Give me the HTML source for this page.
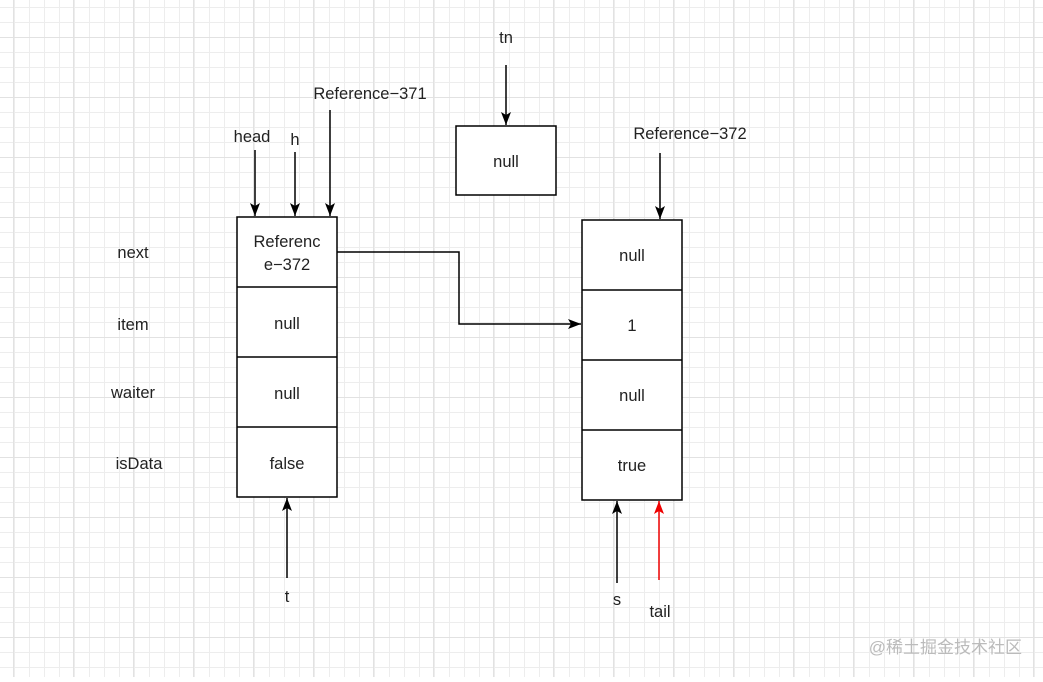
<!DOCTYPE html>
<html><head><meta charset="utf-8"><style>
body{margin:0;width:1043px;height:677px;overflow:hidden;background:#fff;font-family:"Liberation Sans","Noto Sans CJK SC",sans-serif}
</style></head><body>
<svg width="1043" height="677" xmlns="http://www.w3.org/2000/svg">
<defs>
<pattern id="g" x="-1" y="7" width="15" height="15" patternUnits="userSpaceOnUse"><path d="M0 0.5H15M0.5 0V15" stroke="#ededed" stroke-width="1" fill="none"/></pattern>
<pattern id="G" x="13" y="37" width="60" height="60" patternUnits="userSpaceOnUse"><path d="M0 0.5H60M0.5 0V60" stroke="#e2e2e2" stroke-width="1" fill="none"/></pattern>
<marker id="a" markerWidth="14" markerHeight="12" refX="13" refY="6" orient="auto" markerUnits="userSpaceOnUse"><path d="M0 1L13 6L0 11L3 6Z" fill="#000"/></marker>
<marker id="r" markerWidth="14" markerHeight="12" refX="13" refY="6" orient="auto" markerUnits="userSpaceOnUse"><path d="M0 1L13 6L0 11L3 6Z" fill="#e00"/></marker>
</defs>
<rect width="1043" height="677" fill="url(#g)"/>
<rect width="1043" height="677" fill="url(#G)"/>
<g fill="#fff" stroke="#000" stroke-width="1.5">
<rect x="237" y="217" width="100" height="280"/>
<rect x="582" y="220" width="100" height="280"/>
<rect x="456" y="126" width="100" height="69"/>
</g>
<g stroke="#000" stroke-width="1.5">
<path d="M237 287H337M237 357H337M237 427H337M582 290H682M582 360H682M582 430H682"/>
<path d="M255 150V216" marker-end="url(#a)"/>
<path d="M295 152V216" marker-end="url(#a)"/>
<path d="M330 110V216" marker-end="url(#a)"/>
<path d="M506 65V125" marker-end="url(#a)"/>
<path d="M660 153V219" marker-end="url(#a)"/>
<path d="M287 578V498" marker-end="url(#a)"/>
<path d="M617 583V501" marker-end="url(#a)"/>
<path d="M337 252H459V324H581" fill="none" marker-end="url(#a)"/>
</g>
<path d="M659 580V501" stroke="#e00" stroke-width="1.5" marker-end="url(#r)"/>
<g font-size="16.5" fill="#222" text-anchor="middle">
<text x="506" y="43">tn</text>
<text x="370" y="99">Reference−371</text>
<text x="252" y="142">head</text>
<text x="295" y="145">h</text>
<text x="690" y="139">Reference−372</text>
<text x="506" y="167">null</text>
<text x="287" y="247">Referenc</text>
<text x="287" y="270">e−372</text>
<text x="287" y="329">null</text>
<text x="287" y="399">null</text>
<text x="287" y="469">false</text>
<text x="632" y="261">null</text>
<text x="632" y="331">1</text>
<text x="632" y="401">null</text>
<text x="632" y="471">true</text>
<text x="133" y="258">next</text>
<text x="133" y="330">item</text>
<text x="133" y="398">waiter</text>
<text x="139" y="469">isData</text>
<text x="287" y="602">t</text>
<text x="617" y="605">s</text>
<text x="660" y="617">tail</text>
</g>
<text x="1022" y="653" font-size="17" fill="#bbb" text-anchor="end">@稀土掘金技术社区</text>
</svg>
</body></html>
